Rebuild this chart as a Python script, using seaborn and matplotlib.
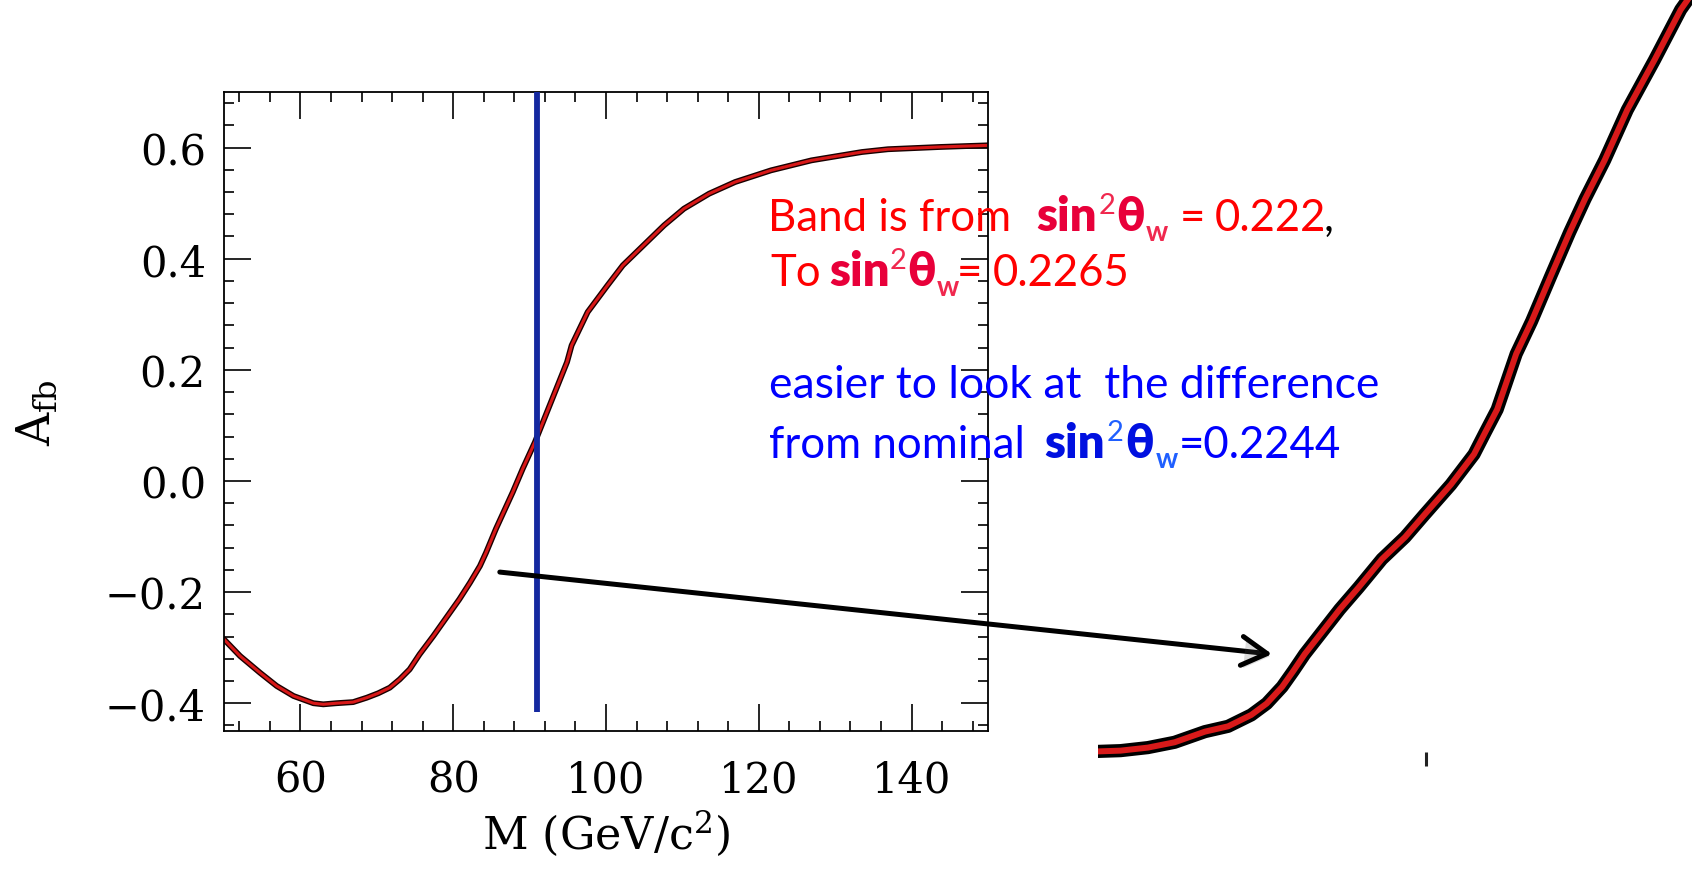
import matplotlib
matplotlib.use('Agg')
import matplotlib.pyplot as plt
import matplotlib.patheffects as pe
from matplotlib.ticker import MultipleLocator, FuncFormatter
from matplotlib.patches import ConnectionPatch
from matplotlib.transforms import IdentityTransform
import seaborn as sns

# A_fb vs dilepton mass
mass = [50.0, 52.1, 54.7, 56.9, 59.1, 61.7, 63.0, 64.7, 66.9, 68.7, 70.2, 71.7, 73.0,
        74.3, 75.6, 77.4, 79.1, 80.8, 82.2, 83.5, 84.3, 85.6, 86.7, 87.8, 89.1, 90.7,
        93.5, 94.9, 95.5, 97.6, 98.9, 100.2, 102.2, 104.9, 107.6, 110.2, 113.5, 116.9,
        121.6, 126.9, 133.5, 136.9, 143.6, 150.0]
afb = [-0.285, -0.315, -0.345, -0.369, -0.387, -0.400, -0.402, -0.400, -0.398, -0.390,
       -0.382, -0.372, -0.357, -0.339, -0.312, -0.279, -0.246, -0.213, -0.183, -0.153,
       -0.129, -0.086, -0.053, -0.020, 0.022, 0.070, 0.166, 0.214, 0.244, 0.304, 0.328,
       0.352, 0.388, 0.424, 0.460, 0.490, 0.517, 0.538, 0.559, 0.577, 0.592, 0.597,
       0.601, 0.604]
mz = 91.0

# blown-up piece of the band (in % of the pasted picture)
zoom_u = [0.0, 3.8, 8.4, 12.9, 18.0, 21.9, 25.8, 28.4, 31.0, 32.9, 34.8, 37.4, 40.7,
          43.9, 47.8, 51.7, 54.9, 59.4, 63.3, 65.2, 67.2, 70.4, 73.0, 76.2, 79.4, 82.0,
          85.3, 89.1, 93.7, 98.1, 100.0]
zoom_v = [1.0, 1.1, 1.5, 2.2, 3.6, 4.3, 5.8, 7.3, 9.5, 11.6, 13.8, 16.4, 19.7, 22.6,
          26.3, 29.2, 32.1, 36.1, 40.1, 43.0, 46.0, 53.3, 57.6, 63.5, 69.3, 73.7, 78.8,
          85.4, 92.0, 98.6, 100.7]
zoom_tick = 55.2

sns.set_style('white')
plt.rcParams['font.family'] = ['DejaVu Serif']
plt.rcParams['text.color'] = 'black'
plt.rcParams['axes.labelcolor'] = 'black'
plt.rcParams['xtick.color'] = 'black'
plt.rcParams['ytick.color'] = 'black'

W, H = 1692, 870
fig = plt.figure(figsize=(W / 100, H / 100), dpi=100)
fig.patch.set_facecolor('white')

ax = fig.add_axes([224 / W, (H - 732) / H, (988 - 224) / W, (732 - 93) / H])
sns.lineplot(x=mass, y=afb, ax=ax, estimator=None, color='#d81818', lw=2.2,
             path_effects=[pe.Stroke(linewidth=4.2, foreground='#1a0000'), pe.Normal()])
ax.vlines(mz, -0.416, 0.70, color='#1428a0', lw=4.2, zorder=3)

ax.set_xlim(50, 150)
ax.set_ylim(-0.45, 0.70)
ax.xaxis.set_major_locator(MultipleLocator(20))
ax.xaxis.set_minor_locator(MultipleLocator(4))
ax.yaxis.set_major_locator(MultipleLocator(0.2))
ax.yaxis.set_minor_locator(MultipleLocator(0.04))


def fmt(v, pos):
    if abs(v) < 1e-9:
        v = 0.0
    return f'{v:.1f}'.replace('-', '\u2212')


ax.yaxis.set_major_formatter(FuncFormatter(fmt))
ax.tick_params(which='both', direction='in', bottom=True, left=True, top=True, right=True,
               width=1.2, color='black', labelcolor='black')
ax.tick_params(which='major', length=19.5, labelsize=30)
ax.tick_params(which='minor', length=7)
ax.tick_params(axis='x', pad=20)
ax.tick_params(axis='y', pad=13)
for s in ax.spines.values():
    s.set_linewidth(1.3)
    s.set_color('black')

ax.set_xlabel(r'M (GeV/c$^2$)', fontsize=32, math_fontfamily='dejavuserif', color='black')
ax.set_ylabel(r'$\mathrm{A}_{\mathrm{fb}}$', fontsize=33, math_fontfamily='dejavuserif', color='black')
ax.xaxis.set_label_coords(0.5, -0.119)
ax.yaxis.set_label_coords(-0.215, 0.5)

# magnified view on the right
ax_in = fig.add_axes([1098 / W, (H - 760) / H, (W - 1098) / W, 760 / H])
ax_in.patch.set_visible(False)
sns.lineplot(x=zoom_u, y=zoom_v, ax=ax_in, estimator=None, sort=False, color='#d81a1a', lw=4.3,
             path_effects=[pe.Stroke(linewidth=9.5, foreground='black'), pe.Normal()])
ax_in.set_xlim(0, 100)
ax_in.set_ylim(0, 100)
for s in ax_in.spines.values():
    s.set_visible(False)
ax_in.set_xticks([zoom_tick])
ax_in.set_xticklabels([])
ax_in.set_yticks([])
ax_in.tick_params(axis='x', bottom=True, direction='inout', length=10, width=2.2, color='#222222')
ax_in.set_xlabel('')
ax_in.set_ylabel('')

arrow = ConnectionPatch(xyA=(86.1, -0.164), coordsA=ax.transData,
                        xyB=(29.3, 13.8), coordsB=ax_in.transData,
                        arrowstyle='->,head_length=0.7,head_width=0.4', mutation_scale=26,
                        lw=3.6, color='black', shrinkA=0, shrinkB=0, capstyle='round',
                        path_effects=[pe.SimplePatchShadow(offset=(2, -2), alpha=0.2), pe.Normal()])
fig.add_artist(arrow)

# slide text, piece by piece (x, baseline in pixels from top)
sans = ['Lato', 'DejaVu Sans']


def put(x, y, s, color, size=31.5, weight='normal'):
    fig.text(x, H - y, s, transform=IdentityTransform(), ha='left', va='baseline',
             color=color, fontsize=size, fontweight=weight, family=sans)


red, crimson, pink = '#ff0000', '#e8003a', '#f0284e'
blue, dblue, lblue = '#0000ff', '#0010e0', '#1f5fff'

put(768, 231, 'Band is from', red)
put(1036, 231, 'sin', crimson, size=34, weight='heavy')
put(1099, 214, '2', pink, size=21)
put(1116, 231, '\u03b8', crimson, size=34, weight='heavy')
put(1146, 241, 'w', pink, size=20, weight='bold')
put(1180, 231, '=', red)
put(1215, 231, '0.222', red)
put(1324, 231, ',', 'black')

put(770, 286, 'To', red)
put(829, 286, 'sin', crimson, size=34, weight='heavy')
put(890, 269, '2', pink, size=21)
put(907, 286, '\u03b8', crimson, size=34, weight='heavy')
put(937, 296, 'w', pink, size=20, weight='bold')
put(957, 286, '=', red)
put(993, 286, '0.2265', red)

put(769, 398, 'easier to look at  the difference', blue, size=32)
put(769, 458, 'from nominal', blue)
put(1044, 458, 'sin', dblue, size=34, weight='heavy')
put(1107, 441, '2', lblue, size=21)
put(1125, 458, '\u03b8', dblue, size=34, weight='heavy')
put(1156, 468, 'w', lblue, size=20, weight='bold')
put(1179, 458, '=0.2244', blue)

fig.savefig('out.png', dpi=100)
